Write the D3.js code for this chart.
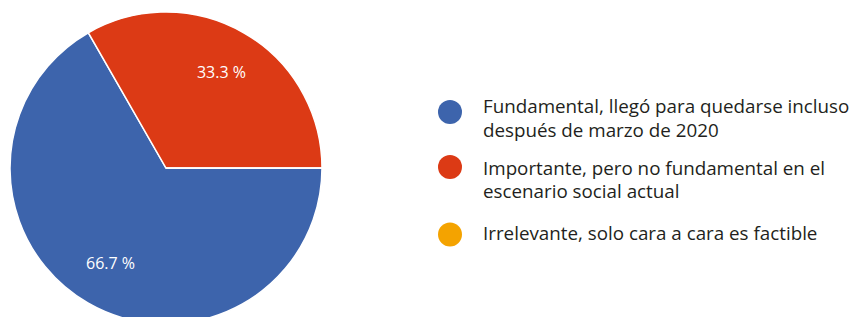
<!DOCTYPE html>
<html><head><meta charset="utf-8">
<script src="https://cdn.jsdelivr.net/npm/d3@7"></script>
<style>
html,body{margin:0;padding:0;background:#fff;}
svg{display:block;}
</style></head>
<body>
<script>
const categories = [
  ["Fundamental, llegó para quedarse incluso", "después de marzo de 2020"],
  ["Importante, pero no fundamental en el", "escenario social actual"],
  ["Irrelevante, solo cara a cara es factible"]
];
const values = [66.7, 33.3, 0];
const colors = ["#3d64ac", "#dc3a15", "#f4a300"];

const W = 855, H = 317;
const svg = d3.select("body").append("svg").attr("width", W).attr("height", H);

const cx = 166, cy = 168, R = 156;
const pie = d3.pie().value(d => d).sort(null)
  .startAngle(Math.PI / 2).endAngle(Math.PI / 2 + 2 * Math.PI);
const arcs = pie(values);
const arc = d3.arc().innerRadius(0).outerRadius(R);
const labelArc = d3.arc().innerRadius(R * 0.71).outerRadius(R * 0.71);

const g = svg.append("g").attr("transform", `translate(${cx},${cy})`);
g.selectAll("path").data(arcs).join("path")
  .attr("d", arc)
  .attr("fill", (d, i) => colors[i])
  .attr("stroke", "#fff")
  .attr("stroke-width", 1.5);

g.selectAll("text").data(arcs.filter(d => d.data > 0)).join("text")
  .attr("transform", d => { const c = labelArc.centroid(d); return `translate(${c[0]},${c[1]})`; })
  .attr("text-anchor", "middle")
  .attr("dy", "0.35em")
  .attr("fill", "#fff")
  .style("font-family", "'Open Sans', sans-serif")
  .style("font-size", "16px")
  .text(d => d.data.toFixed(1) + " %");

// legend
const legX = 450, textX = 483;
const dotY = [112, 167, 234.5];
const baseY = [113.3, 175, 240];
const lineH = 23.4;
const leg = svg.append("g");
categories.forEach((lines, i) => {
  leg.append("circle").attr("cx", legX).attr("cy", dotY[i]).attr("r", 12).attr("fill", colors[i]);
  const t = leg.append("text")
    .attr("x", textX).attr("y", baseY[i])
    .attr("fill", "#231f20")
    .style("font-family", "'Open Sans', sans-serif")
    .style("font-size", "18.8px");
  lines.forEach((ln, j) => {
    t.append("tspan").attr("x", textX).attr("dy", j === 0 ? 0 : lineH).text(ln);
  });
});
</script>
</body></html>
